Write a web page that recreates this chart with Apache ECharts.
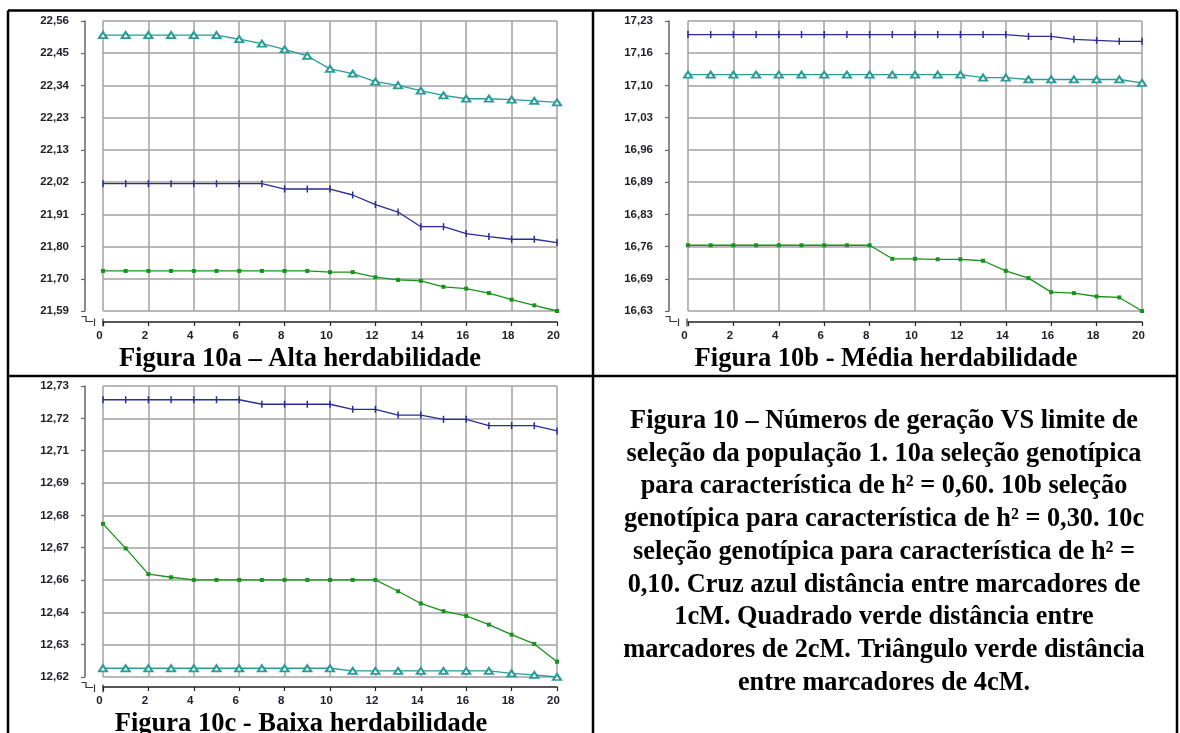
<!DOCTYPE html>
<html>
<head>
<meta charset="utf-8">
<script src="https://cdn.jsdelivr.net/npm/echarts@6/dist/echarts.min.js"></script>
<style>
  html, body { margin: 0; padding: 0; background: #fff; }
  #chart { width: 1180px; height: 733px; }
</style>
</head>
<body>
<div id="chart"></div>
<script>
// ---------- data ----------
const generations = [0,1,2,3,4,5,6,7,8,9,10,11,12,13,14,15,16,17,18,19,20];

const ticksA = ['21,59','21,70','21,80','21,91','22,02','22,13','22,23','22,34','22,45','22,56'];
const ticksB = ['16,63','16,69','16,76','16,83','16,89','16,96','17,03','17,10','17,16','17,23'];
const ticksC = ['12,62','12,63','12,64','12,66','12,67','12,68','12,69','12,71','12,72','12,73'];

const rangeA = [21.59, 22.56];
const rangeB = [16.63, 17.23];
const rangeC = [12.62, 12.73];

// Figura 10a - Alta herdabilidade
const aCross = [22.016,22.016,22.016,22.016,22.016,22.016,22.016,22.016,21.998,21.998,21.998,21.978,21.946,21.921,21.872,21.872,21.849,21.839,21.830,21.830,21.819];
const aSquare = [21.724,21.724,21.724,21.724,21.724,21.724,21.724,21.724,21.724,21.724,21.720,21.720,21.703,21.694,21.691,21.671,21.665,21.650,21.628,21.609,21.590];
const aTriangle = [22.513,22.513,22.513,22.513,22.513,22.513,22.499,22.484,22.465,22.443,22.400,22.384,22.357,22.345,22.327,22.311,22.300,22.300,22.297,22.293,22.288];

// Figura 10b - Média herdabilidade
const bCross = [17.202,17.202,17.202,17.202,17.202,17.202,17.202,17.202,17.202,17.202,17.202,17.202,17.202,17.202,17.202,17.198,17.198,17.192,17.190,17.188,17.188];
const bSquare = [16.766,16.766,16.766,16.766,16.766,16.766,16.766,16.766,16.766,16.738,16.738,16.737,16.737,16.734,16.713,16.698,16.669,16.667,16.660,16.658,16.630];
const bTriangle = [17.119,17.119,17.119,17.119,17.119,17.119,17.119,17.119,17.119,17.119,17.119,17.119,17.119,17.113,17.113,17.109,17.109,17.109,17.109,17.109,17.102];

// Figura 10c - Baixa herdabilidade
const cCross = [12.7248,12.7248,12.7248,12.7248,12.7248,12.7248,12.7248,12.7231,12.7231,12.7231,12.7231,12.7212,12.7212,12.7190,12.7190,12.7174,12.7174,12.7150,12.7150,12.7150,12.7130];
const cSquare = [12.6779,12.6686,12.6589,12.6577,12.6567,12.6567,12.6567,12.6567,12.6567,12.6567,12.6567,12.6567,12.6567,12.6524,12.6478,12.6449,12.6431,12.6398,12.6360,12.6325,12.6258];
const cTriangle = [12.6233,12.6233,12.6233,12.6233,12.6233,12.6233,12.6233,12.6233,12.6233,12.6233,12.6233,12.6223,12.6223,12.6223,12.6223,12.6223,12.6223,12.6223,12.6214,12.6208,12.6200];

const captionA = 'Figura 10a – Alta herdabilidade';
const captionB = 'Figura 10b - Média herdabilidade';
const captionC = 'Figura 10c - Baixa herdabilidade';
const descriptionLines = [
  'Figura 10 – Números de geração VS limite de',
  'seleção da população 1. 10a seleção genotípica',
  'para característica de h² = 0,60. 10b seleção',
  'genotípica para característica de h² = 0,30. 10c',
  'seleção genotípica para característica de h² =',
  '0,10. Cruz azul distância entre marcadores de',
  '1cM. Quadrado verde distância entre',
  'marcadores de 2cM. Triângulo verde distância',
  'entre marcadores de 4cM.'
];

// ---------- styles ----------
const BLUE = '#2b2b9a';
const GREEN = '#17921a';
const TEAL = '#2a9c98';
const GRIDC = '#a2a2a2';
const LABEL_FONT = { fontFamily: 'Liberation Sans, Arial, sans-serif', fontWeight: 'bold', fontSize: 11.5, color: '#1e1e28' };
const SERIF = 'Liberation Serif, Times New Roman, serif';

const panels = [
  { grid: { left: 103, top: 21, width: 454, height: 290 }, range: rangeA, ticks: ticksA, cross: aCross, square: aSquare, tri: aTriangle, xOff: 11, yOff: 18 },
  { grid: { left: 688, top: 21, width: 454, height: 290 }, range: rangeB, ticks: ticksB, cross: bCross, square: bSquare, tri: bTriangle, xOff: 11, yOff: 19 },
  { grid: { left: 103, top: 386, width: 454, height: 291 }, range: rangeC, ticks: ticksC, cross: cCross, square: cSquare, tri: cTriangle, xOff: 10, yOff: 18 }
];

const grids = [], xAxes = [], yAxes = [], series = [];
panels.forEach((p, i) => {
  grids.push(Object.assign({ containLabel: false }, p.grid));
  xAxes.push({
    type: 'value', gridIndex: i, min: 0, max: 20, interval: 2, offset: p.xOff,
    axisLine: { show: true, lineStyle: { color: '#222', width: 1.5 } },
    axisTick: { show: true, length: 4, lineStyle: { color: '#222', width: 1.2 } },
    axisLabel: Object.assign({ margin: 8, padding: [0, 7, 0, 0] }, LABEL_FONT),
    splitLine: { show: true, lineStyle: { color: GRIDC, width: 1.5 } }
  });
  yAxes.push({
    type: 'value', gridIndex: i, min: p.range[0], max: p.range[1], show: false
  });
  yAxes.push({
    type: 'category', gridIndex: i, data: p.ticks, boundaryGap: false, position: 'left', offset: p.yOff,
    axisLine: { show: true, lineStyle: { color: '#666', width: 1.5 } },
    axisTick: { show: true, length: 4, interval: 0, lineStyle: { color: '#666', width: 1.2 } },
    axisLabel: Object.assign({ interval: 0, margin: 16 }, LABEL_FONT),
    splitLine: { show: true, interval: 0, lineStyle: { color: GRIDC, width: 1.5 } }
  });
  const pair = (arr) => generations.map((g, k) => [g, arr[k]]);
  series.push({
    type: 'line', xAxisIndex: i, yAxisIndex: i * 2, data: pair(p.cross),
    symbol: 'rect', symbolSize: [1.5, 7], showAllSymbol: true,
    lineStyle: { color: BLUE, width: 1.3 }, itemStyle: { color: BLUE }, animation: false
  });
  series.push({
    type: 'line', xAxisIndex: i, yAxisIndex: i * 2, data: pair(p.square),
    symbol: 'rect', symbolSize: 4, showAllSymbol: true,
    lineStyle: { color: GREEN, width: 1.3 }, itemStyle: { color: GREEN }, animation: false
  });
  series.push({
    type: 'line', xAxisIndex: i, yAxisIndex: i * 2, data: pair(p.tri),
    symbol: 'emptyTriangle', symbolSize: [8, 6], showAllSymbol: true,
    lineStyle: { color: TEAL, width: 1.3 }, itemStyle: { color: TEAL, borderColor: TEAL, borderWidth: 1.2 }, animation: false
  });
});

// ---------- decorations ----------
const graphics = [];
const border = { stroke: '#000', lineWidth: 2.5 };
function line(x1, y1, x2, y2, style) {
  graphics.push({ type: 'line', shape: { x1, y1, x2, y2 }, style: style, silent: true });
}
line(8, 10.5, 1177, 10.5, border);      // top
line(8, 10.5, 8, 733, border);          // left
line(1177, 10.5, 1177, 733, border);    // right
line(593, 10.5, 593, 733, border);      // middle vertical
line(8, 376, 1177, 376, border);        // middle horizontal

// axis break marks
function breakMark(ax, ay) {
  const st = { stroke: '#333', lineWidth: 1.2, fill: null };
  graphics.push({ type: 'polyline', shape: { points: [[ax - 3.5, ay], [ax + 1, ay], [ax + 1, ay + 5], [ax + 8, ay + 5]] }, style: st, silent: true });
  line(ax + 9.5, ay + 2, ax + 9.5, ay + 9.5, st);
  line(ax + 18, ay + 2, ax + 18, ay + 10, st);
}
breakMark(85, 316.5);
breakMark(669, 316.5);
breakMark(85, 682.5);

// captions
function caption(text, x, y, size) {
  graphics.push({ type: 'text', x: x, y: y, silent: true,
    style: { text: text, font: 'bold ' + size + 'px ' + SERIF, fill: '#000', align: 'center', verticalAlign: 'middle' } });
}
caption(captionA, 300, 359, 26.5);
caption(captionB, 886, 359, 26.5);
caption(captionC, 301, 724, 26.5);
descriptionLines.forEach((t, k) => caption(t, 884, 421 + k * 32.75, 26.3));

const chart = echarts.init(document.getElementById('chart'), null, { renderer: 'canvas' });
chart.setOption({
  animation: false,
  backgroundColor: '#fff',
  grid: grids,
  xAxis: xAxes,
  yAxis: yAxes,
  series: series,
  graphic: graphics
});
</script>
</body>
</html>
